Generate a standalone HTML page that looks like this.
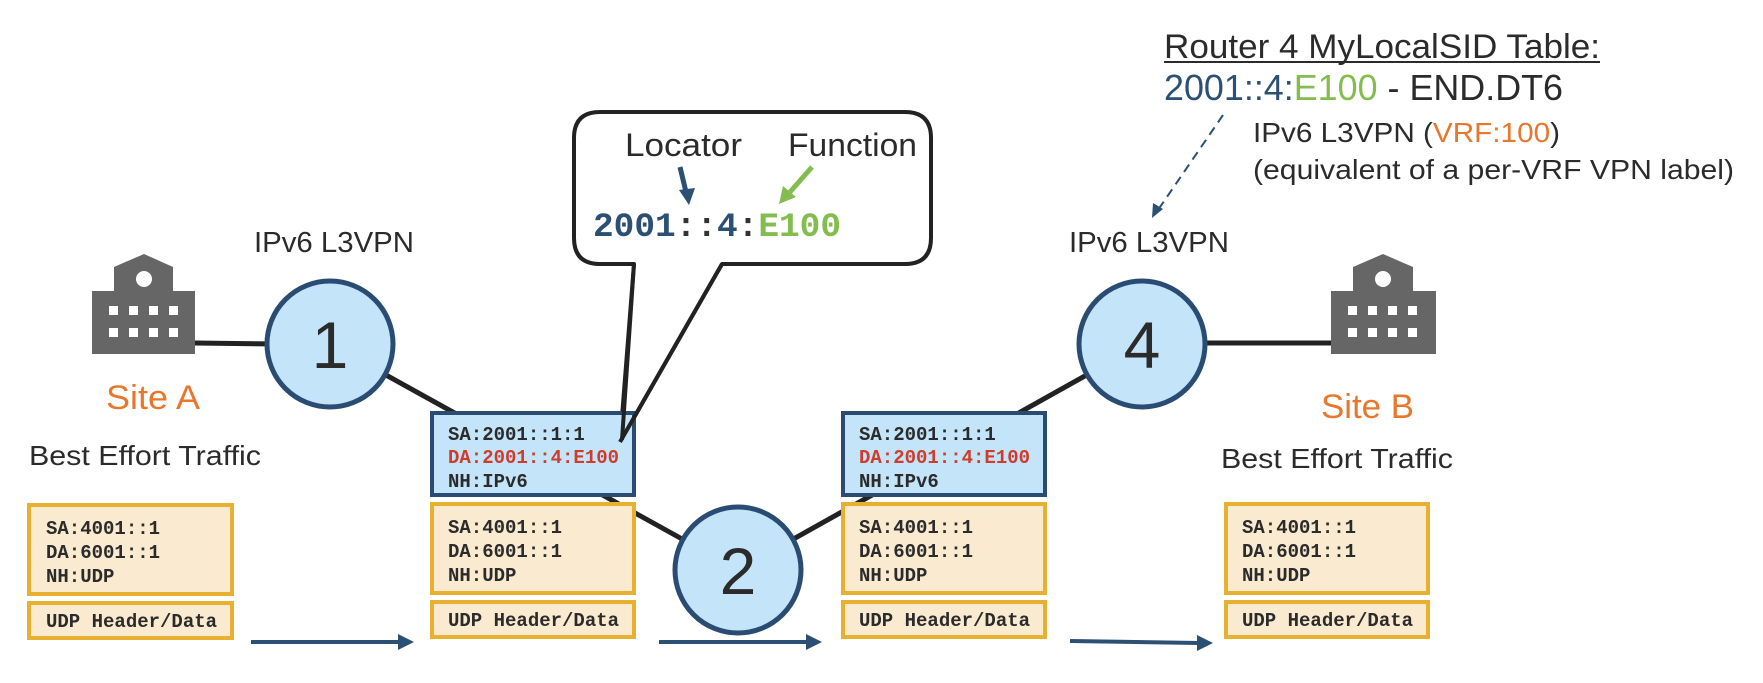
<!DOCTYPE html>
<html><head><meta charset="utf-8"><style>
html,body{margin:0;padding:0;background:#fff;}
svg{display:block;}
.s{font-family:"Liberation Sans",sans-serif;fill:#2b2b2b;}
.m{font-family:"Liberation Mono",monospace;font-weight:bold;fill:#2b2b2b;font-size:19px;}
</style></head><body>
<svg width="1763" height="683" viewBox="0 0 1763 683" xmlns="http://www.w3.org/2000/svg">
<!-- connection lines -->
<g stroke="#222" stroke-width="5">
<line x1="195" y1="343" x2="280" y2="344"/>
<line x1="330" y1="344" x2="738" y2="570"/>
<line x1="738" y1="570" x2="1142" y2="344"/>
<line x1="1200" y1="343" x2="1331" y2="343"/>
</g>
<!-- buildings -->
<g fill="#666">
<rect x="92" y="291" width="103" height="63"/>
<path d="M114,291 L114,267 L144,254 L173,267 L173,291 Z"/>
<rect x="1331" y="291" width="105" height="63"/>
<path d="M1353,291 L1353,267 L1383,254 L1413,267 L1413,291 Z"/>
</g>
<g fill="#fff">
<circle cx="144" cy="279" r="8"/><circle cx="1383" cy="279" r="8"/>
<rect x="109" y="306" width="9" height="9"/><rect x="129" y="306" width="9" height="9"/><rect x="149" y="306" width="9" height="9"/><rect x="169" y="306" width="9" height="9"/>
<rect x="109" y="328" width="9" height="9"/><rect x="129" y="328" width="9" height="9"/><rect x="149" y="328" width="9" height="9"/><rect x="169" y="328" width="9" height="9"/>
<rect x="1348" y="306" width="9" height="9"/><rect x="1368" y="306" width="9" height="9"/><rect x="1388" y="306" width="9" height="9"/><rect x="1408" y="306" width="9" height="9"/>
<rect x="1348" y="328" width="9" height="9"/><rect x="1368" y="328" width="9" height="9"/><rect x="1388" y="328" width="9" height="9"/><rect x="1408" y="328" width="9" height="9"/>
</g>
<!-- circles -->
<g fill="#c3e4f9" stroke="#2b4c72" stroke-width="5">
<circle cx="330" cy="344" r="63"/>
<circle cx="738" cy="570" r="63"/>
<circle cx="1142" cy="344" r="63"/>
</g>
<g class="s" font-size="66" text-anchor="middle">
<text x="330" y="368">1</text><text x="738" y="594">2</text><text x="1142" y="368">4</text>
</g>
<!-- labels -->
<g class="s" font-size="29">
<text x="254" y="252" textLength="160" lengthAdjust="spacingAndGlyphs">IPv6 L3VPN</text>
<text x="1069" y="252" textLength="160" lengthAdjust="spacingAndGlyphs">IPv6 L3VPN</text>
<text x="29" y="465" font-size="28" textLength="232" lengthAdjust="spacingAndGlyphs">Best Effort Traffic</text>
<text x="1221" y="468" font-size="28" textLength="232" lengthAdjust="spacingAndGlyphs">Best Effort Traffic</text>
</g>
<text x="106" y="409" font-family="Liberation Sans,sans-serif" font-size="34" fill="#e8762b" textLength="94" lengthAdjust="spacingAndGlyphs">Site A</text>
<text x="1321" y="418" font-family="Liberation Sans,sans-serif" font-size="34" fill="#e8762b" textLength="93" lengthAdjust="spacingAndGlyphs">Site B</text>
<!-- top-right -->
<text x="1164" y="58" class="s" font-size="34" textLength="436" lengthAdjust="spacingAndGlyphs">Router 4 MyLocalSID Table:</text>
<line x1="1164" y1="62" x2="1600" y2="62" stroke="#2b2b2b" stroke-width="2"/>
<text x="1164" y="100" class="s" font-size="36" textLength="399" lengthAdjust="spacingAndGlyphs"><tspan fill="#2c4f74">2001::4:</tspan><tspan fill="#84bd4f">E100</tspan> - END.DT6</text>
<text x="1253" y="142" class="s" font-size="28" textLength="307" lengthAdjust="spacingAndGlyphs">IPv6 L3VPN (<tspan fill="#e8762b">VRF:100</tspan>)</text>
<text x="1253" y="179" class="s" font-size="28" textLength="481" lengthAdjust="spacingAndGlyphs">(equivalent of a per-VRF VPN label)</text>
<line x1="1223" y1="115" x2="1158" y2="210" stroke="#2c4f74" stroke-width="2" stroke-dasharray="9,6"/>
<path d="M1152,218 L1153,203 L1163,209 Z" fill="#2c4f74"/>
<!-- callout -->
<path d="M600,112 L905,112 Q931,112 931,138 L931,238 Q931,264 905,264 L722,264 L620,442 L634,264 L600,264 Q574,264 574,238 L574,138 Q574,112 600,112 Z" fill="#fff" stroke="#222" stroke-width="4" stroke-linejoin="round"/>
<text x="625" y="156" class="s" font-size="32" textLength="117" lengthAdjust="spacingAndGlyphs">Locator</text>
<text x="788" y="156" class="s" font-size="32" textLength="129" lengthAdjust="spacingAndGlyphs">Function</text>
<line x1="680" y1="167" x2="686" y2="192" stroke="#2c4f74" stroke-width="5"/>
<path d="M679,190 L695,188 L689,205 Z" fill="#2c4f74"/>
<line x1="812" y1="167" x2="790" y2="192" stroke="#84bd4f" stroke-width="5"/>
<path d="M783,186 L796,197 L779,204 Z" fill="#84bd4f"/>
<text x="593" y="236" font-family="Liberation Mono,monospace" font-weight="bold" font-size="34" textLength="248" lengthAdjust="spacingAndGlyphs"><tspan fill="#2c4f74">2001</tspan><tspan fill="#333">::</tspan><tspan fill="#2c4f74">4</tspan><tspan fill="#333">:</tspan><tspan fill="#84bd4f">E100</tspan></text>
<!-- blue boxes -->
<g fill="#c3e4f9" stroke="#2b4c72" stroke-width="4">
<rect x="432" y="413" width="202" height="82"/>
<rect x="843" y="413" width="202" height="82"/>
</g>
<line x1="722" y1="264" x2="620" y2="442" stroke="#222" stroke-width="4"/>
<line x1="634" y1="264" x2="622" y2="440" stroke="#222" stroke-width="4"/>
<g class="m">
<text x="448" y="440">SA:2001::1:1</text>
<text x="448" y="463" fill="#d03c2c">DA:2001::4:E100</text>
<text x="448" y="487">NH:IPv6</text>
<text x="859" y="440">SA:2001::1:1</text>
<text x="859" y="463" fill="#d03c2c">DA:2001::4:E100</text>
<text x="859" y="487">NH:IPv6</text>
</g>
<!-- orange boxes -->
<g fill="#faebd0" stroke="#e8b030" stroke-width="4">
<rect x="29" y="505" width="203" height="89"/><rect x="29" y="603" width="203" height="35"/>
<rect x="432" y="504" width="202" height="89"/><rect x="432" y="602" width="202" height="35"/>
<rect x="843" y="504" width="202" height="89"/><rect x="843" y="602" width="202" height="35"/>
<rect x="1226" y="504" width="202" height="89"/><rect x="1226" y="602" width="202" height="35"/>
</g>
<g class="m">
<text x="46" y="534">SA:4001::1</text><text x="46" y="558">DA:6001::1</text><text x="46" y="582">NH:UDP</text><text x="46" y="627">UDP Header/Data</text>
<text x="448" y="533">SA:4001::1</text><text x="448" y="557">DA:6001::1</text><text x="448" y="581">NH:UDP</text><text x="448" y="626">UDP Header/Data</text>
<text x="859" y="533">SA:4001::1</text><text x="859" y="557">DA:6001::1</text><text x="859" y="581">NH:UDP</text><text x="859" y="626">UDP Header/Data</text>
<text x="1242" y="533">SA:4001::1</text><text x="1242" y="557">DA:6001::1</text><text x="1242" y="581">NH:UDP</text><text x="1242" y="626">UDP Header/Data</text>
</g>
<!-- bottom arrows -->
<g stroke="#2c4f74" stroke-width="4">
<line x1="251" y1="642" x2="400" y2="642"/>
<line x1="659" y1="642" x2="808" y2="642"/>
<line x1="1070" y1="641" x2="1199" y2="643"/>
</g>
<g fill="#2c4f74">
<path d="M398,634 L414,642 L398,650 Z"/>
<path d="M806,634 L822,642 L806,650 Z"/>
<path d="M1197,635 L1213,643 L1197,651 Z"/>
</g>
</svg>
</body></html>
